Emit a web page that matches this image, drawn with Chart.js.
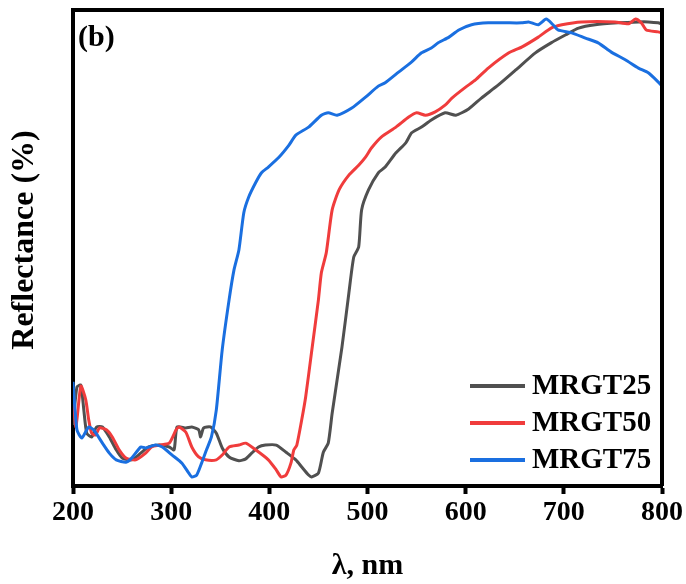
<!DOCTYPE html>
<html>
<head>
<meta charset="utf-8">
<script src="https://cdn.jsdelivr.net/npm/chart.js@4.4.1/dist/chart.umd.min.js"></script>
<style>
  html, body { margin: 0; padding: 0; background: #fff; }
  canvas { display: block; }
</style>
</head>
<body>
<canvas id="refChart" width="686" height="584"></canvas>
<script>
// ---- data (wavelength in nm, reflectance in %) ----
const wl25 = [200,204,208,211,214,219,224,230,237,244,250,260,269,277,288,298,303,306,315,321,328,330,333,340,346,352,359,369,376,382,389,396,407,417,427,433,440,443,450,455,460,464,474,481,486,491,494,501,511,518,529,539,545,555,565,579,590,603,616,633,651,671,687,702,715,732,755,776,786,796,800];
const r25  = [12.8,20.8,21.2,16.0,11.1,10.3,12.4,12.4,10.3,7.6,5.9,5.5,6.9,8.2,8.6,8.2,7.6,12.4,12.2,12.4,11.8,10.3,12.2,12.4,11.1,8.0,6.1,5.3,5.7,6.9,8.2,8.6,8.6,7.1,5.5,4.0,2.3,1.9,2.7,7.1,9.0,15.3,29.2,40.5,48.1,50.2,58.0,62.2,65.8,67.0,70.0,72.1,74.2,75.4,76.9,78.4,77.9,79.2,81.5,84.2,87.4,91.0,93.1,94.8,96.2,96.9,97.3,97.5,97.5,97.3,97.0];

const wl50 = [200,203,208,213,216,219,223,227,234,240,247,254,264,274,280,288,298,305,308,315,321,328,335,346,352,359,369,376,386,399,407,412,417,422,425,428,433,437,443,450,453,458,464,471,481,491,498,504,514,529,542,550,559,569,579,586,600,610,623,644,657,674,687,698,718,752,766,773,779,784,796,800];
const r50  = [19.5,12.4,21.0,18.1,13.9,11.1,10.7,12.2,11.8,10.3,7.6,5.9,5.5,6.9,8.2,8.6,9.0,11.8,12.4,11.3,8.2,6.1,5.5,5.5,6.5,8.2,8.6,9.0,7.6,5.5,3.4,1.9,2.3,4.8,7.6,8.6,13.9,18.7,28.1,39.1,44.8,49.0,58.0,62.2,65.3,67.4,69.1,71.0,73.3,75.4,77.5,78.4,77.9,78.6,80.0,81.5,83.8,85.3,87.8,91.0,92.2,94.3,96.2,96.9,97.5,97.5,97.1,98.1,97.3,95.8,95.4,95.2];

const wl75 = [200,204,209,216,221,230,237,244,254,260,269,274,284,291,301,311,318,321,326,331,336,341,346,352,359,364,369,374,379,386,392,399,410,420,427,440,453,460,469,484,498,511,518,532,545,555,565,572,583,593,606,623,641,657,664,674,682,689,694,708,722,735,748,763,776,786,796,800];
const r75  = [21.9,11.8,10.1,12.4,11.8,9.0,6.9,5.5,5.0,5.9,8.2,8.0,8.6,8.2,6.5,4.8,2.7,1.9,2.3,4.8,7.6,10.3,16.0,28.6,39.1,45.4,49.6,57.4,60.7,63.7,65.8,67.0,69.1,71.6,73.7,75.4,77.9,78.4,77.9,79.4,81.7,84.0,84.7,87.0,89.1,91.0,92.0,93.1,94.3,95.8,96.9,97.3,97.3,97.3,97.5,96.9,98.1,96.9,95.8,95.2,94.1,93.1,91.2,89.5,87.8,86.8,84.9,84.0];

const seriesNames = ["MRGT25", "MRGT50", "MRGT75"];
const seriesColors = ["#505050", "#f03c3c", "#1a6fe0"];
const xTicks = [200, 300, 400, 500, 600, 700, 800];

const serif = "'Liberation Serif', 'Times New Roman', serif";

function toPoints(xs, ys) {
  return xs.map((x, i) => ({ x: x, y: ys[i] }));
}

// frame (top/right edges), y title, panel label and legend
const framePlugin = {
  id: "frame",
  afterDatasetsDraw(chart) {
    const ctx = chart.ctx;
    const a = chart.chartArea;
    ctx.save();
    ctx.strokeStyle = "#000";
    ctx.lineWidth = 4;
    ctx.beginPath();
    ctx.moveTo(a.left, a.top);
    ctx.lineTo(a.right, a.top);
    ctx.lineTo(a.right, a.bottom);
    ctx.stroke();

    ctx.fillStyle = "#000";
    ctx.textBaseline = "middle";

    // y axis title
    ctx.save();
    ctx.translate(25, 240);
    ctx.rotate(-Math.PI / 2);
    ctx.textAlign = "center";
    ctx.font = "bold 32px " + serif;
    ctx.fillText("Reflectance (%)", 0, 0);
    ctx.restore();

    ctx.textAlign = "left";
    ctx.font = "bold 30px " + serif;
    ctx.fillText("(b)", a.left + 5, a.top + 28);

    // legend
    ctx.font = "bold 29px " + serif;
    chart.data.datasets.forEach((ds, i) => {
      const y = 386 + i * 37;
      ctx.strokeStyle = ds.borderColor;
      ctx.lineWidth = 4;
      ctx.beginPath();
      ctx.moveTo(470, y);
      ctx.lineTo(525, y);
      ctx.stroke();
      ctx.fillStyle = "#000";
      ctx.fillText(ds.label, 532, y + 1);
    });
    ctx.restore();
  }
};

const ctx = document.getElementById("refChart").getContext("2d");
const refChart = new Chart(ctx, {
  type: "line",
  data: {
    datasets: [
      { label: seriesNames[0], data: toPoints(wl25, r25), borderColor: seriesColors[0], order: 3 },
      { label: seriesNames[1], data: toPoints(wl50, r50), borderColor: seriesColors[1], order: 2 },
      { label: seriesNames[2], data: toPoints(wl75, r75), borderColor: seriesColors[2], order: 1 }
    ]
  },
  options: {
    responsive: false,
    animation: false,
    devicePixelRatio: 1,
    layout: { padding: { left: 0, top: 10, right: 24, bottom: 0 } },
    elements: {
      line: { borderWidth: 3, tension: 0.2, fill: false },
      point: { radius: 0 }
    },
    plugins: {
      legend: { display: false },
      tooltip: { enabled: false }
    },
    scales: {
      x: {
        type: "linear",
        min: 200,
        max: 800,
        afterFit(scale) { scale.height = 98; },
        afterBuildTicks(scale) { scale.ticks = xTicks.map(v => ({ value: v })); },
        ticks: {
          color: "#000",
          font: { family: serif, size: 28, weight: "bold" },
          padding: 2,
          maxRotation: 0
        },
        grid: {
          drawOnChartArea: false,
          drawTicks: true,
          tickLength: 8,
          tickWidth: 4,
          tickColor: "#000"
        },
        border: { display: true, width: 4, color: "#000" },
        title: {
          display: true,
          text: "λ, nm",
          color: "#000",
          font: { family: serif, size: 30, weight: "bold" },
          padding: { top: 0, bottom: 0 }
        }
      },
      y: {
        min: 0,
        max: 100,
        afterFit(scale) { scale.width = 73; },
        ticks: { display: false },
        grid: { display: false },
        border: { display: true, width: 4, color: "#000" },
        title: { display: false }
      }
    }
  },
  plugins: [framePlugin]
});
</script>
</body>
</html>
